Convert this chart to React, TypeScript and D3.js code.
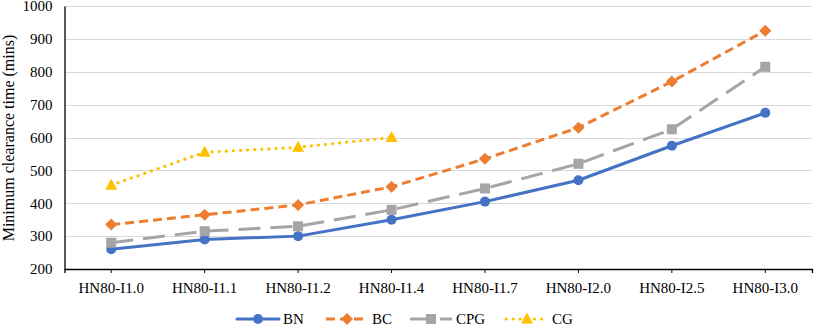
import React, { useEffect, useRef } from "react";
import * as d3 from "d3";

const categories = [
  "HN80-I1.0",
  "HN80-I1.1",
  "HN80-I1.2",
  "HN80-I1.4",
  "HN80-I1.7",
  "HN80-I2.0",
  "HN80-I2.5",
  "HN80-I3.0",
];
const bnValues = [260, 290, 300, 350, 405, 470, 575, 675];
const bcValues = [335, 365, 395, 450, 535, 630, 770, 925];
const cpgValues = [280, 315, 330, 380, 445, 520, 625, 815];
const cgValues = [455, 555, 570, 600];
const yTicks = [200, 300, 400, 500, 600, 700, 800, 900, 1000];

const series = [
  { name: "BN", values: bnValues, color: "#4472C4", dash: null, cap: "round", marker: "circle" },
  { name: "BC", values: bcValues, color: "#ED7D31", dash: "9,5", cap: "butt", marker: "diamond" },
  { name: "CPG", values: cpgValues, color: "#A5A5A5", dash: "22,10", cap: "butt", marker: "square" },
  { name: "CG", values: cgValues, color: "#FFC000", dash: "0.1,7", cap: "round", marker: "triangle" },
];

const FONT = "Liberation Serif, Times New Roman, serif";

const App = () => {
  const svgRef = useRef<SVGSVGElement>(null);

  useEffect(() => {
    const width = 814;
    const height = 326;
    const margin = { top: 6, right: 2, bottom: 57, left: 64.5 };

    const svg = d3.select(svgRef.current);
    svg.selectAll("*").remove();
    svg.attr("width", width).attr("height", height).style("font-family", FONT);

    const x = d3
      .scaleBand()
      .domain(categories)
      .range([margin.left, width - margin.right]);
    const y = d3
      .scaleLinear()
      .domain([200, 1000])
      .range([height - margin.bottom, margin.top]);

    // gridlines
    svg
      .append("g")
      .selectAll("line")
      .data(yTicks.slice(1))
      .join("line")
      .attr("x1", margin.left)
      .attr("x2", width - margin.right)
      .attr("y1", (d) => Math.round(y(d)) + 0.5)
      .attr("y2", (d) => Math.round(y(d)) + 0.5)
      .attr("stroke", "#d9d9d9")
      .attr("stroke-width", 1);

    // y axis
    const yAxis = d3
      .axisLeft(y)
      .tickValues(yTicks)
      .tickFormat(d3.format("d"))
      .tickSize(0)
      .tickPadding(12);
    const gy = svg
      .append("g")
      .attr("transform", `translate(${margin.left},0)`)
      .call(yAxis);
    gy.attr("font-family", null);
    gy.select(".domain").attr("stroke", "#000").attr("stroke-width", 1.3);
    gy.selectAll("text")
      .style("font-family", FONT)
      .style("font-size", "15px")
      .attr("fill", "#000");

    // x axis
    const xAxis = d3.axisBottom(x).tickSize(4).tickSizeOuter(4).tickPadding(9);
    const gx = svg
      .append("g")
      .attr("transform", `translate(0,${height - margin.bottom})`)
      .call(xAxis);
    gx.attr("font-family", null);
    gx.select(".domain").attr("stroke", "#000").attr("stroke-width", 1.3);
    gx.selectAll(".tick line").attr("stroke", "#000");
    gx.selectAll("text")
      .style("font-family", FONT)
      .style("font-size", "15px")
      .attr("fill", "#000");

    // y title
    svg
      .append("text")
      .attr("transform", `translate(14,138) rotate(-90)`)
      .attr("text-anchor", "middle")
      .style("font-family", FONT)
      .style("font-size", "16px")
      .attr("fill", "#000")
      .text("Minimum clearance time (mins)");

    const cx = (i: number) => (x(categories[i]) as number) + x.bandwidth() / 2;

    const drawMarker = (g: any, type: string, color: string, px: number, py: number) => {
      if (type === "circle") {
        g.append("circle").attr("cx", px).attr("cy", py).attr("r", 5).attr("fill", color);
      } else if (type === "diamond") {
        g.append("path")
          .attr("d", `M${px},${py - 6}L${px + 6},${py}L${px},${py + 6}L${px - 6},${py}Z`)
          .attr("fill", color);
      } else if (type === "square") {
        g.append("rect")
          .attr("x", px - 5)
          .attr("y", py - 5)
          .attr("width", 10)
          .attr("height", 10)
          .attr("fill", color);
      } else {
        g.append("path")
          .attr("d", `M${px},${py - 6.5}L${px + 6},${py + 4.5}L${px - 6},${py + 4.5}Z`)
          .attr("fill", color);
      }
    };

    const line = d3
      .line<number>()
      .x((_, i) => cx(i))
      .y((d) => y(d));

    series.forEach((s) => {
      const g = svg.append("g");
      g.append("path")
        .datum(s.values)
        .attr("d", line)
        .attr("fill", "none")
        .attr("stroke", s.color)
        .attr("stroke-width", s.name === "CG" ? 3.2 : 3)
        .attr("stroke-linecap", s.cap)
        .attr("stroke-linejoin", "round")
        .attr("stroke-dasharray", s.dash);
      s.values.forEach((v, i) => drawMarker(g, s.marker, s.color, cx(i), y(v)));
    });

    // legend
    const legendY = 319;
    const legendX = [237, 326, 410, 506];
    series.forEach((s, i) => {
      const g = svg.append("g");
      const x0 = legendX[i];
      const len = 42;
      g.append("line")
        .attr("x1", x0)
        .attr("x2", x0 + len)
        .attr("y1", legendY)
        .attr("y2", legendY)
        .attr("stroke", s.color)
        .attr("stroke-width", s.name === "CG" ? 3.2 : 3)
        .attr("stroke-linecap", s.cap)
        .attr("stroke-dasharray", s.name === "CPG" ? "20,10" : s.dash);
      drawMarker(g, s.marker, s.color, x0 + len / 2, legendY);
      g.append("text")
        .attr("x", x0 + len + 4)
        .attr("y", legendY + 4.5)
        .style("font-family", FONT)
        .style("font-size", "15px")
        .attr("fill", "#000")
        .text(s.name);
    });
  }, []);

  return (
    <div style={{ position: "absolute", left: 0, top: 0 }}>
      <svg ref={svgRef}></svg>
    </div>
  );
};

export default App;
